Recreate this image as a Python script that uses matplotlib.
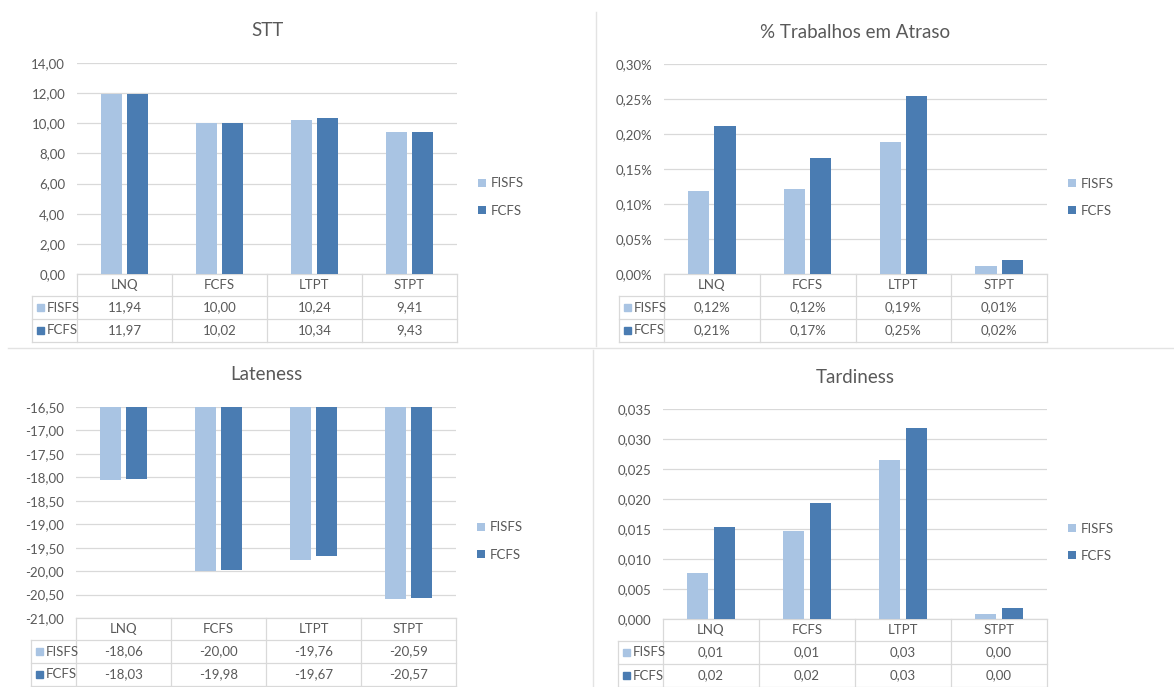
import matplotlib.pyplot as plt
from matplotlib.lines import Line2D
from matplotlib.patches import Rectangle
from matplotlib.ticker import MultipleLocator, FuncFormatter
from matplotlib.transforms import blended_transform_factory

W, H = 1174, 687
plt.rcParams['font.family'] = ['Lato', 'DejaVu Sans']

categories = ['LNQ', 'FCFS', 'LTPT', 'STPT']
series = ['FISFS', 'FCFS']

stt_fisfs = [11.94, 10.00, 10.24, 9.41]
stt_fcfs = [11.97, 10.02, 10.34, 9.43]
atraso_fisfs = [0.119, 0.121, 0.188, 0.011]
atraso_fcfs = [0.212, 0.166, 0.254, 0.020]
lateness_fisfs = [-18.06, -20.00, -19.76, -20.59]
lateness_fcfs = [-18.03, -19.98, -19.67, -20.57]
tardiness_fisfs = [0.0077, 0.0147, 0.0265, 0.0008]
tardiness_fcfs = [0.0153, 0.0193, 0.0319, 0.0018]

light = '#A9C4E3'
dark = '#4A7CB2'
text_c = '#595959'
grid_c = '#D9D9D9'

fig = plt.figure(figsize=(W / 100, H / 100), dpi=100)


def comma(v, dec, suffix=''):
    return f'{v:.{dec}f}'.replace('.', ',') + suffix


def panel(box, table_left, title, title_y, a, b, ylim, step, tick_dec, cell_dec, suffix=''):
    # box = (left, top, right, bottom) in pixels from the top-left corner
    x0, y0, x1, y1 = box
    h = y1 - y0
    ax = fig.add_axes([x0 / W, 1 - y1 / H, (x1 - x0) / W, h / H])
    x = list(range(len(categories)))
    bw, off = 0.22, 0.137
    ax.bar([i - off for i in x], a, bw, color=light, label=series[0], zorder=3)
    ax.bar([i + off for i in x], b, bw, color=dark, label=series[1], zorder=3)
    ax.set_xlim(-0.5, len(categories) - 0.5)
    ax.set_ylim(*ylim)
    ax.yaxis.set_major_locator(MultipleLocator(step))
    ax.yaxis.set_major_formatter(FuncFormatter(lambda v, p: comma(v, tick_dec, suffix)))
    ax.grid(axis='y', color=grid_c, lw=0.9, zorder=0)
    ax.set_xticks([])
    ax.tick_params(axis='y', length=0, pad=8.5, labelsize=9.5, labelcolor=text_c)
    for s in ax.spines.values():
        s.set_visible(False)

    ax.text(0.5, 1 + (y0 - title_y) / h, title, transform=ax.transAxes,
            ha='center', va='center', fontsize=13.5, color=text_c)

    ax.legend(loc='center left', bbox_to_anchor=(1.055, 0.365), frameon=False,
              borderpad=0, borderaxespad=0, handlelength=0.6, handleheight=0.6,
              handletextpad=0.35, labelspacing=1.15, prop={'size': 9.5},
              labelcolor=text_c)

    # data table under the plot area
    tr = blended_transform_factory(ax.transData, ax.transAxes)
    cw = (x1 - x0) / len(categories)
    tl = -0.5 + (table_left - x0) / cw
    xr = len(categories) - 0.5
    rows = [0, 22, 45, 68]
    ry = [-r / h for r in rows]
    lk = dict(color=grid_c, lw=0.9, transform=tr, clip_on=False)
    ax.add_line(Line2D([-0.5, xr], [ry[0], ry[0]], **lk))
    for yy in ry[1:]:
        ax.add_line(Line2D([tl, xr], [yy, yy], **lk))
    for i in range(len(categories) + 1):
        ax.add_line(Line2D([i - 0.5, i - 0.5], [ry[0], ry[3]], **lk))
    ax.add_line(Line2D([tl, tl], [ry[1], ry[3]], **lk))

    tk = dict(transform=tr, ha='center', va='center', fontsize=9.5, color=text_c, clip_on=False)
    for i, c in enumerate(categories):
        ax.text(i, (ry[0] + ry[1]) / 2, c, **tk)
        ax.text(i, (ry[1] + ry[2]) / 2, comma(a[i], cell_dec, suffix), **tk)
        ax.text(i, (ry[2] + ry[3]) / 2, comma(b[i], cell_dec, suffix), **tk)

    sq = 6.5
    for k, (name, col) in enumerate([(series[0], light), (series[1], dark)]):
        yc = (ry[k + 1] + ry[k + 2]) / 2
        ax.add_patch(Rectangle((tl + 5 / cw, yc - sq / 2 / h), sq / cw, sq / h,
                               color=col, transform=tr, clip_on=False))
        ax.text(tl + 15 / cw, yc, name, transform=tr, ha='left', va='center',
                fontsize=9.5, color=text_c, clip_on=False)
    return ax


panel((77, 63, 457, 274), 32, 'STT', 30, stt_fisfs, stt_fcfs,
      (0, 14), 2, 2, 2)
panel((664, 64, 1047, 274), 619, '% Trabalhos em Atraso', 32, atraso_fisfs, atraso_fcfs,
      (0, 0.30), 0.05, 2, 2, '%')
panel((76, 407, 456, 618), 31, 'Lateness', 374, lateness_fisfs, lateness_fcfs,
      (-21, -16.5), 0.5, 2, 2)
panel((663, 409, 1047, 619), 618, 'Tardiness', 377, tardiness_fisfs, tardiness_fcfs,
      (0, 0.035), 0.005, 3, 2)

# thin separators between the four chart areas
sep = '#E3E3E3'
fig.add_artist(Line2D([8 / W, 1], [1 - 348 / H, 1 - 348 / H], color=sep, lw=1))
fig.add_artist(Line2D([596 / W, 596 / W], [1 - 12 / H, 1 - 346 / H], color=sep, lw=1))
fig.add_artist(Line2D([593 / W, 593 / W], [1 - 350 / H, 0], color=sep, lw=1))

fig.savefig('out.png', dpi=100)
